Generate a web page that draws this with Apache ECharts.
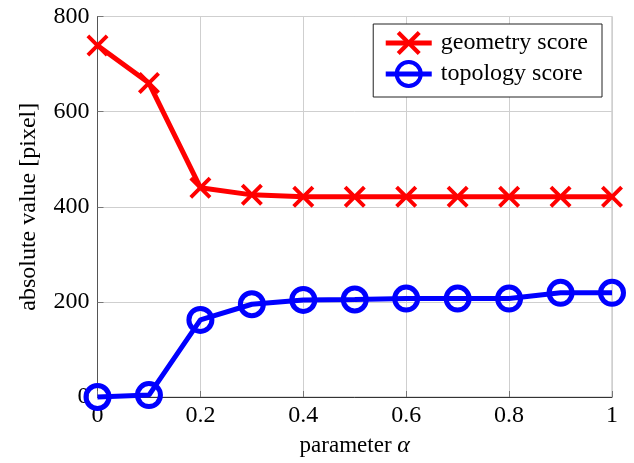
<!DOCTYPE html>
<html><head><meta charset="utf-8">
<script src="https://cdn.jsdelivr.net/npm/echarts@6/dist/echarts.min.js"></script>
<style>html,body{margin:0;padding:0;background:#fff}#c{width:634px;height:463px}</style>
</head><body><div id="c"></div>
<script>
const alphas = [0, 0.1, 0.2, 0.3, 0.4, 0.5, 0.6, 0.7, 0.8, 0.9, 1];
const geometryScore = [739, 660, 440, 425, 421, 421, 421, 421, 421, 421, 421];
const topologyScore = [0, 4, 162, 195, 204, 205, 207, 207, 207, 219, 219];
const seriesNames = ['geometry score', 'topology score'];
const xTicks = [0, 0.2, 0.4, 0.6, 0.8, 1];
const yTicks = [0, 200, 400, 600, 800];

const crossPath = 'path://M3,0 L12,9 L21,0 L24,3 L15,12 L24,21 L21,24 L12,15 L3,24 L0,21 L9,12 L0,3 Z';
const font = 'Liberation Serif';
const chart = echarts.init(document.getElementById('c'));
chart.setOption({
  animation: false,
  backgroundColor: '#fff',
  grid: { left: 97.5, right: 22, top: 16.5, bottom: 61.5, show: true, borderColor: '#b8b8b8', borderWidth: 1 },
  legend: {
    orient: 'vertical', right: 32, top: 24,
    backgroundColor: '#fff', borderColor: '#222', borderWidth: 1,
    padding: [7, 14, 9, 10], itemGap: 5, itemWidth: 46, itemHeight: 30,
    lineStyle: { width: 5 },
    textStyle: { fontFamily: font, fontSize: 24, color: '#000', padding: [0, 0, 0, 4] },
    data: [
      { name: seriesNames[0] },
      { name: seriesNames[1], itemStyle: { borderWidth: 4 } }
    ]
  },
  xAxis: {
    type: 'value', min: 0, max: 1, interval: 0.2,
    name: 'parameter {i|α}', nameLocation: 'middle', nameGap: 37,
    nameTextStyle: { fontFamily: font, fontSize: 23, color: '#000', rich: { i: { fontFamily: font, fontSize: 24, fontStyle: 'italic' } } },
    axisLine: { lineStyle: { color: '#333', width: 1 } },
    axisTick: { inside: true, length: 6, lineStyle: { color: '#777' } },
    axisLabel: { fontFamily: font, fontSize: 24, color: '#000', margin: 7,
      formatter: v => xTicks.includes(Math.round(v * 10) / 10) ? String(Math.round(v * 10) / 10) : '' },
    splitLine: { show: true, lineStyle: { color: '#cfcfcf', width: 1 } }
  },
  yAxis: {
    type: 'value', min: 0, max: 800, interval: 200,
    name: 'absolute value [pixel]', nameLocation: 'middle', nameGap: 57,
    nameTextStyle: { fontFamily: font, fontSize: 24, color: '#000' },
    axisLine: { show: true, lineStyle: { color: '#555', width: 1 } },
    axisTick: { show: true, inside: true, length: 6, lineStyle: { color: '#777' } },
    axisLabel: { fontFamily: font, fontSize: 24, color: '#000', margin: 8,
      formatter: v => yTicks.includes(v) ? String(v) : '' },
    splitLine: { show: true, lineStyle: { color: '#cfcfcf', width: 1 } }
  },
  series: [
    {
      name: seriesNames[0], type: 'line', clip: false, z: 5,
      data: alphas.map((a, i) => [a, geometryScore[i]]),
      symbol: crossPath, symbolSize: 22, showAllSymbol: true,
      lineStyle: { color: '#ff0000', width: 5 },
      itemStyle: { color: '#ff0000' }
    },
    {
      name: seriesNames[1], type: 'line', clip: false, z: 5,
      data: alphas.map((a, i) => [a, topologyScore[i]]),
      symbol: 'circle', symbolSize: 23, showAllSymbol: true,
      lineStyle: { color: '#0000ff', width: 5 },
      itemStyle: { color: 'rgba(255,255,255,0)', borderColor: '#0000ff', borderWidth: 5 }
    }
  ]
});
</script></body></html>
